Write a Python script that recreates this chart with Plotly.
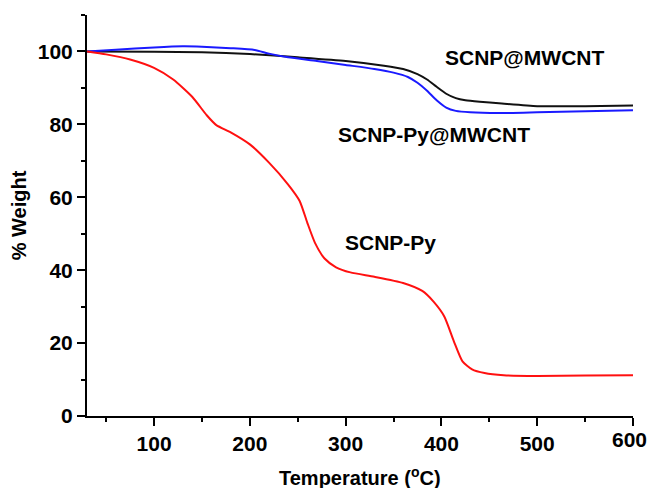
import plotly.graph_objects as go

# SCNP-Py (red)
T_red = [30, 50, 75, 100, 120, 140, 155, 165, 180, 200, 220, 240, 252, 260, 268, 278, 290, 305, 330, 360, 380, 392, 403, 413, 422, 432, 445, 465, 500, 550, 600]
W_red = [100, 99.2, 97.8, 95.5, 92.3, 87.5, 82.5, 79.8, 77.8, 74.5, 69.5, 63.5, 59, 53, 47.5, 43.2, 40.8, 39.4, 38.2, 36.5, 34.3, 31.3, 27.3, 20.5, 15, 12.8, 11.8, 11.2, 11.0, 11.1, 11.2]

# SCNP@MWCNT (black)
T_blk = [30, 100, 150, 200, 250, 300, 340, 360, 375, 385, 395, 405, 415, 425, 440, 460, 500, 550, 600]
W_blk = [100, 99.9, 99.8, 99.3, 98.4, 97.4, 96.1, 95.2, 93.8, 92.3, 90.3, 88.4, 87.2, 86.6, 86.2, 85.8, 85.0, 85.0, 85.2]

# SCNP-Py@MWCNT (blue)
T_blu = [30, 60, 100, 130, 150, 180, 205, 220, 240, 270, 300, 330, 350, 365, 375, 385, 395, 405, 415, 430, 460, 500, 550, 600]
W_blu = [100, 100.5, 101.1, 101.4, 101.3, 100.9, 100.4, 99.4, 98.4, 97.4, 96.3, 95.2, 94.2, 93, 91.4, 89.2, 86.6, 84.6, 83.7, 83.3, 83.1, 83.3, 83.6, 83.9]

x_ticks = [100, 200, 300, 400, 500, 600]
x_ticklabels = ["100", "200", "300", "400", "500", "600"]
x_title = "Temperature (<sup>o</sup>C)"
y_title = "% Weight"

labels = ["SCNP@MWCNT", "SCNP-Py@MWCNT", "SCNP-Py"]
label_x = [487, 392, 347]
label_y = [98.4, 77.3, 47.5]

FONT = "Arial, Liberation Sans, sans-serif"
TICKFONT = dict(family=FONT, size=21, color="black", weight="bold")
TITLEFONT = dict(family=FONT, size=20, color="black", weight="bold")

fig = go.Figure()
fig.add_trace(go.Scatter(x=T_blk, y=W_blk, mode="lines", line=dict(color="#111111", width=2, shape="spline", smoothing=0.6), name=labels[0]))
fig.add_trace(go.Scatter(x=T_blu, y=W_blu, mode="lines", line=dict(color="#1a1aff", width=2, shape="spline", smoothing=0.6), name=labels[1]))
fig.add_trace(go.Scatter(x=T_red, y=W_red, mode="lines", line=dict(color="#ff1010", width=2, shape="spline", smoothing=0.6), name=labels[2]))

for t, x, y in zip(labels, label_x, label_y):
    fig.add_annotation(x=x, y=y, xref="x", yref="y", text=t, showarrow=False,
                       font=dict(family=FONT, size=21, color="black", weight="bold"))

# last x tick label drawn as annotation, nudged left so it is not clipped at the page edge
fig.add_annotation(x=x_ticks[-1], y=0, xref="x", yref="paper", text=x_ticklabels[-1],
                   showarrow=False, xanchor="center", yanchor="top", xshift=-4, yshift=-10,
                   font=TICKFONT)

# x axis title as annotation
fig.add_annotation(x=0.5, y=0, xref="paper", yref="paper", text=x_title,
                   showarrow=False, xanchor="center", yanchor="top", yshift=-46,
                   font=TITLEFONT)

axis_common = dict(
    showgrid=False, zeroline=False, showline=True, linecolor="black", linewidth=2,
    ticks="outside", ticklen=8, tickwidth=2, tickcolor="black", automargin=False,
    tickfont=TICKFONT,
)

fig.update_layout(
    width=647, height=480,
    margin=dict(l=79, r=22, t=7, b=72),
    paper_bgcolor="white", plot_bgcolor="white",
    showlegend=False,
    xaxis=dict(range=[30, 600], tickvals=x_ticks, ticktext=x_ticklabels[:-1] + [""],
               minor=dict(ticks="outside", dtick=50, tick0=0, ticklen=4, tickwidth=2, tickcolor="black"),
               **axis_common),
    yaxis=dict(range=[0, 110], tick0=0, dtick=20,
               minor=dict(ticks="outside", dtick=10, tick0=0, ticklen=4, tickwidth=2, tickcolor="black"),
               title=dict(text=y_title, font=TITLEFONT, standoff=14),
               **axis_common),
)

fig.write_html("out.html")
